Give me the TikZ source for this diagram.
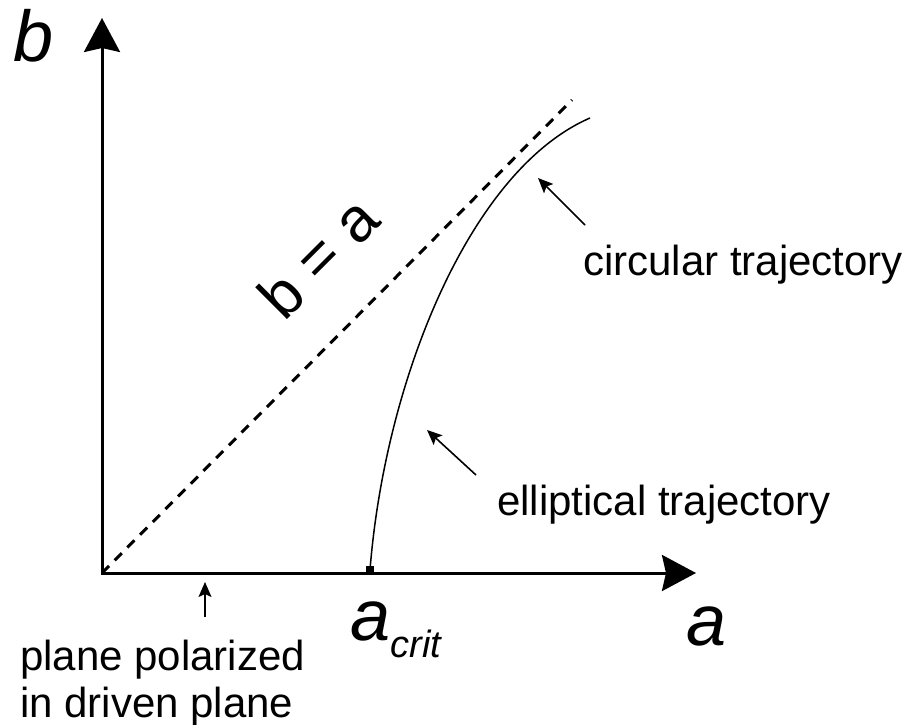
\documentclass[tikz,border=0pt]{standalone}
\usepackage{fontspec}
\setmainfont{Liberation Sans}
\usetikzlibrary{arrows.meta}
\begin{document}
\begin{tikzpicture}[x=1pt,y=-1pt,
 axes/.style={line width=3pt,{Stealth[length=34pt,width=36pt,inset=4pt]}-{Stealth[length=34pt,width=36pt,inset=4pt]}},
 note/.style={line width=1.6pt,-{Stealth[length=15pt,width=13pt,inset=3pt]}},
 lbl/.style={font=\fontsize{42}{50}\selectfont,inner sep=0pt},
 big/.style={font=\fontsize{72}{80}\selectfont\itshape,inner sep=0pt},
]
\useasboundingbox (0,0) rectangle (914,725);
\coordinate (O) at (102,573);
\coordinate (yend) at (102,18);
\coordinate (xend) at (696,573);
\coordinate (D) at (572,100);
\coordinate (ac) at (370,570);
\coordinate (cend) at (590,118);
\draw[axes] (yend) -- (O) -- (xend);
\draw[line width=3pt, dash pattern=on 10pt off 8pt] (O) -- (D);
\draw[line width=1.5pt] (ac) .. controls (385,380) and (470,170) .. (cend);
\node[fill, minimum size=8pt, inner sep=0pt] (sq) at (ac) {};
% annotation arrows
\coordinate (c1) at (585,225);
\coordinate (c2) at (538,178);
\coordinate (e1) at (476,475);
\coordinate (e2) at (427,430);
\coordinate (p1) at (205,617);
\coordinate (p2) at (205,582);
\draw[note] (c1) -- (c2);
\draw[note] (e1) -- (e2);
\draw[note] (p1) -- (p2);
% labels
\node[big, anchor=base west] (blab) at (13,62) {b};
\node[big, anchor=base west] (alab) at (686,645) {a};
\node[big, anchor=base west] (acr) at (350,640) {a};
\node[font=\fontsize{38}{44}\selectfont\itshape, inner sep=0pt, anchor=base west] (crit) at (acr.base east) [yshift=-17pt] {crit};
\node[font=\fontsize{62}{70}\selectfont, rotate=45, inner sep=0pt] (bea) at (318,257) {b = a};
\node[lbl, anchor=base west] (circ) at (583,275) {circular trajectory};
\node[lbl, anchor=base west] (ell) at (497,515) {elliptical trajectory};
\node[lbl, anchor=base west] (pp1) at (20,670) {plane polarized};
\node[lbl, anchor=base west] (pp2) at (20,717) {in driven plane};
\end{tikzpicture}
\end{document}
